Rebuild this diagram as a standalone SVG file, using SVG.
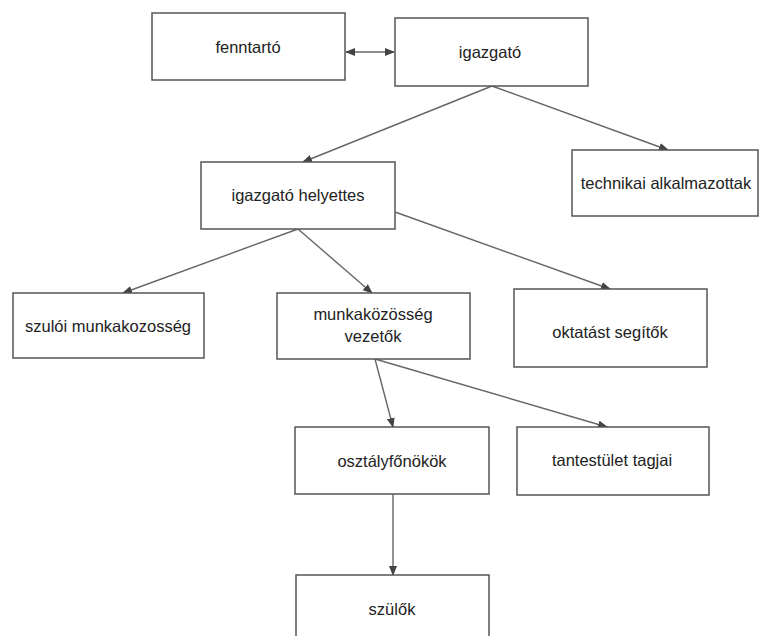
<svg xmlns="http://www.w3.org/2000/svg" width="759" height="636" viewBox="0 0 759 636">
<style>
.box{fill:#fff;stroke:#555;stroke-width:1.5}
.lbl{font-family:"Liberation Sans",Arial,sans-serif;font-size:16.5px;fill:#222;text-anchor:middle;dominant-baseline:central}
.edge{stroke:#666;stroke-width:1.4;fill:none;marker-end:url(#ah)}
</style>
<defs>
<marker id="ah" markerUnits="userSpaceOnUse" markerWidth="10" markerHeight="8" refX="9" refY="4" orient="auto">
<path d="M0,0 L10,4 L0,8 Z" fill="#444"/>
</marker>
<marker id="as" markerUnits="userSpaceOnUse" markerWidth="10" markerHeight="8" refX="1" refY="4" orient="auto">
<path d="M10,0 L0,4 L10,8 Z" fill="#444"/>
</marker>
</defs>
<rect width="759" height="636" fill="#fff"/>
<g id="connectors">
<path class="edge" style="marker-start:url(#as)" d="M346,52 L394,52"/>
<path class="edge" d="M492,86 L303,162"/>
<path class="edge" d="M492,86 L668,150"/>
<path class="edge" d="M298,229 L123,293"/>
<path class="edge" d="M298,229 L372,293"/>
<path class="edge" d="M395,212 L610,289"/>
<path class="edge" d="M375,359 L393,427"/>
<path class="edge" d="M375,359 L607,427"/>
<path class="edge" d="M393,494 L393,575"/>
</g>
<g id="fenntarto"><rect class="box" x="152" y="13" width="193" height="67"/><text class="lbl" x="248" y="47">fenntartó</text></g>
<g id="igazgato"><rect class="box" x="395" y="18" width="193" height="68"/><text class="lbl" x="490" y="52">igazgató</text></g>
<g id="technikai"><rect class="box" x="572" y="150" width="186" height="66"/><text class="lbl" x="666" y="183">technikai alkalmazottak</text></g>
<g id="helyettes"><rect class="box" x="201" y="162" width="194" height="67"/><text class="lbl" x="298" y="195">igazgató helyettes</text></g>
<g id="szuloi"><rect class="box" x="13" y="293" width="191" height="65"/><text class="lbl" x="108" y="326">szulói munkakozosség</text></g>
<g id="munkakozosseg"><rect class="box" x="277" y="293" width="193" height="66"/><text class="lbl" x="373" y="314">munkaközösség</text><text class="lbl" x="373" y="336">vezetők</text></g>
<g id="oktatast"><rect class="box" x="514" y="289" width="193" height="78"/><text class="lbl" x="610" y="332">oktatást segítők</text></g>
<g id="osztalyfonokok"><rect class="box" x="295" y="427" width="194" height="67"/><text class="lbl" x="392" y="461">osztályfőnökök</text></g>
<g id="tantestulet"><rect class="box" x="517" y="427" width="192" height="68"/><text class="lbl" x="612" y="460">tantestület tagjai</text></g>
<g id="szulok"><rect class="box" x="296" y="575" width="193" height="68"/><text class="lbl" x="392" y="609">szülők</text></g>
</svg>
